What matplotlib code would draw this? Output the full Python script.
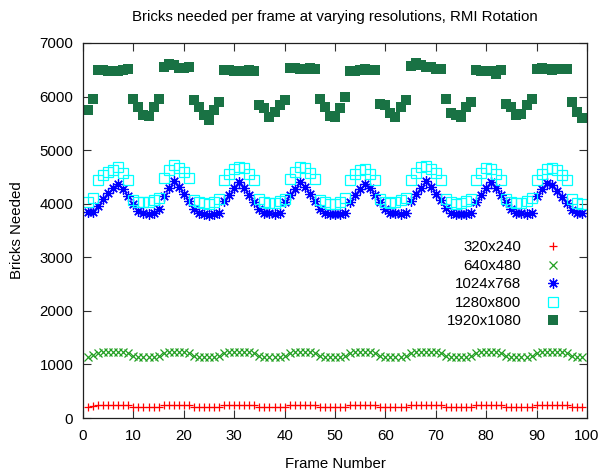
import matplotlib
matplotlib.use("Agg")
import matplotlib.pyplot as plt

plt.rcParams['font.family'] = ['Liberation Sans', 'DejaVu Sans']

title = "Bricks needed per frame at varying resolutions, RMI Rotation"
xlabel = "Frame Number"
ylabel = "Bricks Needed"
labels = ["320x240", "640x480", "1024x768", "1280x800", "1920x1080"]

frames = list(range(1, 100))

res_320 = [210, 225,
           235, 238, 240, 240, 238, 236, 235,
           212, 210, 208, 208, 210, 212,
           236, 240, 242, 240, 238, 236,
           212, 210, 206, 206, 210, 212,
           235, 238, 240, 242, 240, 238, 235,
           212, 210, 208, 208, 210, 212,
           236, 240, 242, 240, 238, 236,
           212, 210, 206, 206, 210, 212,
           235, 238, 240, 240, 238, 235,
           212, 210, 208, 208, 210, 212,
           236, 240, 242, 242, 240, 238, 236,
           212, 210, 206, 206, 210, 212,
           236, 240, 242, 240, 238, 235,
           212, 210, 208, 208, 210, 212,
           235, 238, 240, 242, 240, 238, 235,
           212, 208, 206]

res_640 = [1130, 1180,
           1210, 1225, 1235, 1235, 1230, 1225, 1215,
           1150, 1140, 1135, 1135, 1140, 1150,
           1215, 1230, 1240, 1235, 1230, 1215,
           1150, 1140, 1130, 1130, 1140, 1150,
           1210, 1225, 1235, 1240, 1235, 1225, 1210,
           1150, 1140, 1135, 1135, 1140, 1150,
           1215, 1230, 1240, 1235, 1225, 1215,
           1150, 1140, 1130, 1130, 1140, 1150,
           1210, 1225, 1235, 1235, 1225, 1210,
           1150, 1140, 1135, 1135, 1140, 1150,
           1215, 1230, 1240, 1240, 1235, 1225, 1215,
           1150, 1140, 1130, 1130, 1140, 1150,
           1215, 1230, 1240, 1235, 1225, 1210,
           1150, 1140, 1135, 1135, 1140, 1150,
           1210, 1225, 1235, 1240, 1235, 1225, 1210,
           1150, 1135, 1130]

res_1024 = [3840, 3850,
            3950, 4080, 4200, 4300, 4370, 4280, 4150,
            4000, 3860, 3820, 3810, 3820, 3900,
            4150, 4290, 4420, 4310, 4180, 4050,
            3910, 3830, 3800, 3790, 3800, 3820,
            4050, 4170, 4290, 4400, 4300, 4170, 4040,
            3900, 3830, 3820, 3810, 3830, 4030,
            4160, 4280, 4410, 4310, 4180, 4050,
            3910, 3830, 3810, 3800, 3810, 3830,
            4030, 4160, 4280, 4360, 4290, 4170,
            4040, 3900, 3830, 3820, 3810, 3830,
            4050, 4180, 4300, 4420, 4320, 4190, 4060,
            3920, 3830, 3810, 3800, 3810, 3830,
            4040, 4170, 4290, 4400, 4300, 4170,
            4040, 3900, 3830, 3820, 3810, 3830,
            4150, 4280, 4380, 4340, 4240, 4130, 4010,
            3880, 3830, 3820]

res_1280 = [4040, 4100,
            4440, 4530, 4600, 4630, 4690, 4570, 4440,
            4070, 4040, 4030, 4040, 4070, 4100,
            4480, 4620, 4720, 4670, 4600, 4480,
            4070, 4030, 4010, 4000, 4030, 4090,
            4440, 4550, 4650, 4680, 4660, 4560, 4440,
            4080, 4030, 4010, 4020, 4050, 4090,
            4460, 4600, 4680, 4660, 4580, 4460,
            4070, 4030, 4000, 4000, 4040, 4100,
            4440, 4560, 4630, 4640, 4560, 4440,
            4080, 4040, 4020, 4030, 4060, 4100,
            4450, 4580, 4690, 4700, 4650, 4570, 4450,
            4080, 4030, 4000, 4010, 4050, 4090,
            4450, 4580, 4660, 4640, 4560, 4440,
            4080, 4030, 4010, 4020, 4050, 4100,
            4440, 4560, 4640, 4670, 4620, 4540, 4440,
            4080, 4020, 4000]

res_1920 = [5740, 5960,
            6490, 6500, 6480, 6470, 6480, 6500, 6510,
            5950, 5800, 5660, 5640, 5800, 5960,
            6560, 6610, 6580, 6530, 6540, 6550,
            5930, 5800, 5650, 5560, 5750, 5900,
            6500, 6490, 6480, 6470, 6480, 6490, 6470,
            5840, 5780, 5620, 5720, 5840, 5930,
            6530, 6540, 6520, 6510, 6530, 6520,
            5960, 5810, 5640, 5620, 5780, 5990,
            6470, 6480, 6500, 6510, 6500, 6490,
            5870, 5840, 5690, 5620, 5810, 5930,
            6570, 6620, 6580, 6560, 6550, 6520, 6510,
            5960, 5690, 5650, 5620, 5810, 5900,
            6490, 6480, 6480, 6470, 6430, 6500,
            5870, 5810, 5650, 5680, 5840, 5960,
            6510, 6540, 6520, 6500, 6510, 6520, 6510,
            5900, 5720, 5600]

xticks = list(range(0, 101, 10))
yticks = list(range(0, 7001, 1000))

FS = 10.8

fig = plt.figure(figsize=(6.0, 4.73), dpi=100)
ax = fig.add_axes([83/600, 1 - 418/473, (587 - 83)/600, (418 - 43)/473])

ax.plot(frames, res_320, linestyle='none', marker='+', markersize=6,
        markeredgewidth=0.9, color='#ff0000', label=labels[0])
ax.plot(frames, res_640, linestyle='none', marker='x', markersize=6,
        markeredgewidth=0.9, color='#22a022', label=labels[1])
ax.plot(frames, res_1024, linestyle='none', marker=(8, 2, 0), markersize=7.5,
        markeredgewidth=0.9, color='#0000ff', label=labels[2])
ax.plot(frames, res_1280, linestyle='none', marker='s', markersize=7.8,
        markeredgewidth=0.9, markerfacecolor='none', color='#00ffff', label=labels[3])
ax.plot(frames, res_1920, linestyle='none', marker='s', markersize=7.8,
        markeredgewidth=0, color='#197244', label=labels[4])

ax.set_xlim(0, 100)
ax.set_ylim(0, 7000)
ax.set_xticks(xticks)
ax.set_yticks(yticks)
ax.tick_params(direction='in', length=5.5, width=0.8, top=True, right=True,
               labelsize=FS, colors='#303030', labelcolor='black')
ax.tick_params(axis='x', pad=8)
ax.tick_params(axis='y', pad=7)
for s in ax.spines.values():
    s.set_linewidth(0.9)
    s.set_color('#202020')

ax.set_title(title, fontsize=FS, pad=16)
ax.set_xlabel(xlabel, fontsize=FS, labelpad=10)
ax.set_ylabel(ylabel, fontsize=FS, labelpad=11)

ax.legend(loc='upper right', bbox_to_anchor=(0.947, 0.474), frameon=False,
          markerfirst=False, numpoints=1, handlelength=1.0, handletextpad=1.6,
          labelspacing=0.3, fontsize=FS, borderaxespad=0, borderpad=0)

fig.savefig("out.png", dpi=100)
